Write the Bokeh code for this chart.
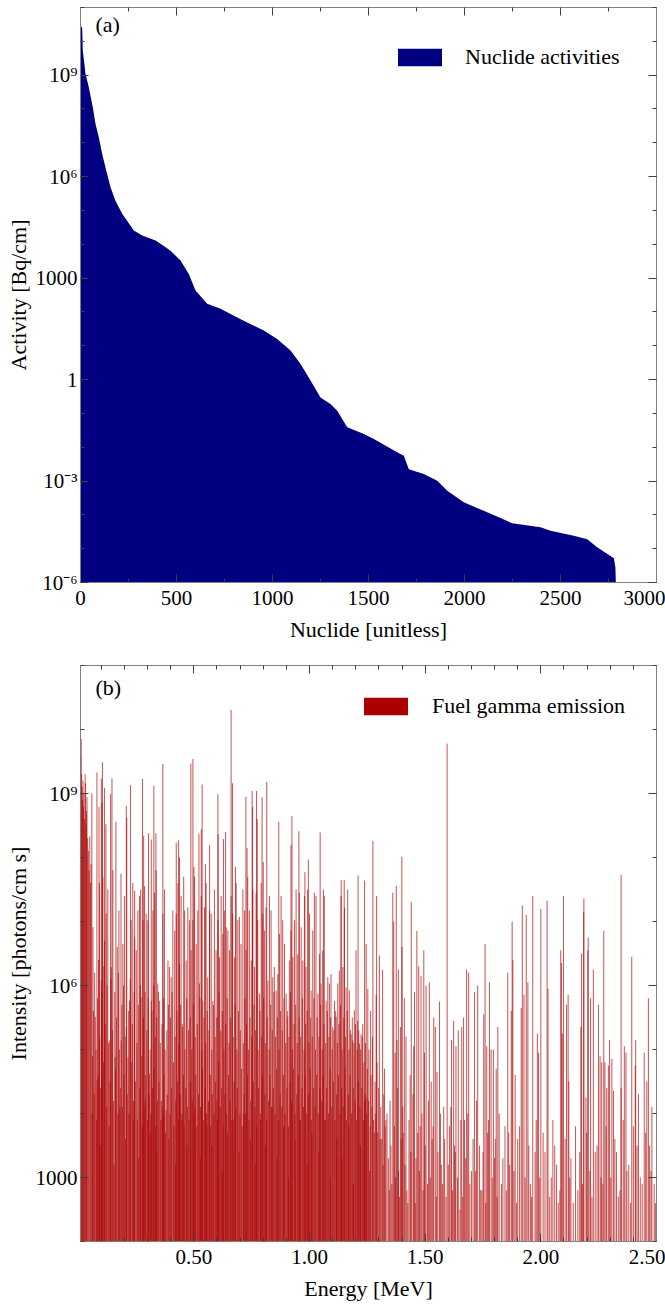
from bokeh.plotting import figure
from bokeh.models import (FixedTicker, LogAxis, LinearAxis, Legend, LegendItem, Label,
                          CustomJSTickFormatter, NumeralTickFormatter, Range1d)
from bokeh.layouts import column
from bokeh.embed import file_html
from bokeh.resources import INLINE

FONT = "Liberation Serif"
FS_TICK = "21px"
FS = "22px"
NAVY = "#000080"
RED = "#AA0000"

# ---------------- (a) nuclide activities, sorted (index, log10 activity [Bq/cm]) ----------
nuclide_index = [0, 9, 12, 26, 43, 64, 78, 95, 113, 134, 156, 182, 217, 278, 321, 391, 443,
                 469, 521, 564, 599, 660, 729, 799, 868, 955, 1024, 1094, 1146, 1198, 1250,
                 1302, 1337, 1389, 1476, 1528, 1649, 1684, 1710, 1788, 1858, 1910, 1996, 2100,
                 2188, 2248, 2396, 2448, 2569, 2639, 2691, 2778, 2786, 2798]
activity_log10 = [10.5, 10.37, 9.73, 9.04, 8.65, 8.05, 7.56, 7.17, 6.67, 6.18, 5.69, 5.29, 4.90,
                  4.41, 4.26, 4.11, 3.91, 3.81, 3.52, 3.12, 2.63, 2.24, 2.09, 1.89, 1.69, 1.45,
                  1.20, 0.86, 0.46, -0.03, -0.53, -0.72, -0.92, -1.41, -1.61, -1.76, -2.15,
                  -2.25, -2.65, -2.79, -2.99, -3.29, -3.63, -3.88, -4.09, -4.25, -4.37, -4.47,
                  -4.62, -4.72, -4.96, -5.28, -5.56, -8.0]

# ---------------- (b) gamma lines: (energy [MeV], log10 intensity [photons/cm s]) ----------
strong_lines = [
    (0.011, 9.6), (0.013, 9.85), (0.015, 9.3), (0.017, 9.1), (0.019, 8.9), (0.021, 9.2),
    (0.023, 8.8), (0.025, 9.0), (0.027, 8.6), (0.030, 9.3), (0.032, 9.16), (0.034, 8.5),
    (0.036, 8.73), (0.038, 8.94), (0.041, 8.3), (0.044, 8.1), (0.047, 7.8), (0.050, 8.33),
    (0.053, 7.6), (0.056, 7.9), (0.059, 9.0),
    (0.081, 9.33), (0.090, 8.79), (0.100, 9.23), (0.103, 8.86), (0.105, 9.49), (0.114, 9.09),
    (0.120, 8.52), (0.140, 8.99), (0.146, 9.24), (0.163, 8.56), (0.185, 7.75), (0.208, 8.81),
    (0.210, 8.62), (0.226, 9.13), (0.244, 7.48), (0.270, 7.5), (0.278, 9.23), (0.283, 8.34),
    (0.304, 8.38), (0.316, 8.28), (0.327, 9.12), (0.336, 8.38), (0.366, 9.46), (0.424, 8.23),
    (0.434, 8.27), (0.438, 8.0), (0.456, 7.7), (0.487, 9.47), (0.496, 9.54), (0.500, 7.85),
    (0.522, 8.37), (0.532, 8.44), (0.536, 9.14), (0.550, 7.9), (0.568, 8.19), (0.604, 8.99),
    (0.605, 8.36), (0.628, 8.29), (0.637, 8.40), (0.661, 10.31), (0.667, 9.16), (0.680, 7.85),
    (0.725, 8.95), (0.730, 8.15), (0.752, 9.04), (0.754, 8.79), (0.771, 9.04), (0.774, 8.6),
    (0.795, 8.94), (0.800, 7.93), (0.815, 9.18), (0.867, 8.56), (0.920, 8.2), (0.924, 8.65),
    (0.954, 8.41), (0.980, 7.77), (0.995, 7.97), (1.046, 8.39), (1.060, 7.5), (1.137, 7.65),
    (1.150, 7.65), (1.210, 7.72), (1.238, 7.64), (1.274, 8.26), (1.290, 7.4), (1.360, 7.45),
    (1.375, 7.56), (1.399, 8.01), (1.440, 7.3), (1.595, 9.78), (1.920, 7.25), (1.965, 7.4),
    (2.000, 7.2), (2.027, 7.33), (2.098, 7.40), (2.186, 7.36), (2.347, 7.73),
]
medium_lines = [
    (0.064, 6.91), (0.074, 5.51), (0.082, 4.52), (0.092, 7.6), (0.100, 6.08), (0.107, 7.7),
    (0.114, 6.70), (0.121, 7.12), (0.128, 7.5), (0.136, 5.14), (0.143, 6.29), (0.150, 7.8),
    (0.160, 4.88), (0.169, 6.60), (0.176, 7.17), (0.186, 5.14), (0.193, 6.65), (0.200, 7.4),
    (0.208, 5.35), (0.215, 4.88), (0.222, 5.76), (0.229, 7.02), (0.236, 7.6), (0.244, 6.76),
    (0.251, 6.55), (0.258, 7.17), (0.265, 7.4), (0.272, 5.82), (0.280, 7.02), (0.287, 7.55),
    (0.294, 7.12), (0.301, 7.02), (0.308, 4.62), (0.316, 5.76), (0.323, 7.17), (0.330, 7.45),
    (0.337, 7.8), (0.344, 6.03), (0.352, 5.76), (0.359, 4.20), (0.366, 7.12), (0.373, 7.5),
    (0.380, 4.05), (0.388, 6.39), (0.395, 6.29), (0.402, 6.13), (0.409, 7.17), (0.417, 6.86),
    (0.424, 7.12), (0.431, 7.6), (0.438, 6.34), (0.445, 7.4), (0.452, 5.35), (0.460, 7.17),
    (0.467, 6.39), (0.474, 7.22), (0.481, 7.02), (0.488, 6.55), (0.496, 7.02), (0.503, 7.7),
    (0.510, 6.65), (0.517, 7.17), (0.524, 6.03), (0.532, 7.4), (0.539, 5.76), (0.546, 7.22),
    (0.553, 7.6), (0.560, 6.13), (0.568, 7.17), (0.575, 7.12), (0.582, 5.76), (0.589, 7.5),
    (0.596, 6.55), (0.604, 7.02), (0.611, 6.44), (0.618, 7.4), (0.625, 6.81), (0.632, 7.17),
    (0.640, 6.91), (0.647, 6.86), (0.654, 6.55), (0.661, 7.4), (0.668, 7.12), (0.676, 6.44),
    (0.683, 7.6), (0.690, 7.02), (0.697, 7.07), (0.704, 6.65), (0.712, 7.5), (0.719, 7.17),
    (0.726, 6.55), (0.733, 7.7), (0.740, 7.17), (0.748, 6.39), (0.755, 7.5), (0.762, 6.29),
    (0.769, 7.45), (0.776, 7.02), (0.784, 5.87), (0.791, 7.6), (0.798, 7.12), (0.805, 6.86),
    (0.812, 7.22), (0.820, 6.08), (0.827, 7.4), (0.834, 7.17), (0.841, 6.13), (0.848, 6.29),
    (0.856, 5.92), (0.863, 6.18), (0.870, 6.81), (0.877, 7.4), (0.884, 7.02), (0.892, 6.65),
    (0.899, 5.87), (0.906, 5.51), (0.913, 6.39), (0.920, 6.86), (0.928, 6.44), (0.935, 7.02),
    (0.942, 7.5), (0.949, 6.49), (0.956, 7.45), (0.964, 6.91), (0.971, 6.39), (0.978, 7.4),
    (0.985, 6.29), (0.992, 7.5), (1.000, 7.12), (1.007, 5.92), (1.014, 6.86), (1.021, 7.45),
    (1.028, 7.4), (1.036, 5.87), (1.043, 6.49), (1.050, 6.03), (1.057, 6.55), (1.064, 7.4),
    (1.072, 5.76), (1.079, 6.13), (1.086, 6.03), (1.093, 6.18), (1.100, 5.35), (1.108, 5.76),
    (1.115, 5.51), (1.122, 6.03), (1.129, 6.23), (1.136, 7.4), (1.144, 6.29), (1.151, 7.22),
    (1.158, 5.97), (1.165, 7.5), (1.172, 5.92), (1.180, 5.24), (1.187, 5.14), (1.194, 5.61),
    (1.201, 6.55), (1.208, 5.45), (1.216, 5.09), (1.223, 5.24), (1.230, 5.40), (1.237, 4.20),
    (1.244, 4.25),
    (1.245, 6.65), (1.252, 5.95), (1.264, 5.6), (1.288, 5.85), (1.302, 6.47), (1.316, 6.25),
    (1.324, 4.7), (1.364, 7.0), (1.370, 4.95), (1.378, 5.15), (1.384, 6.25), (1.393, 5.35),
    (1.400, 6.6), (1.410, 5.8), (1.417, 5.2), (1.435, 4.6), (1.450, 5.05), (1.454, 5.9),
    (1.464, 6.85), (1.472, 6.3), (1.482, 6.15), (1.494, 6.55), (1.497, 4.95), (1.504, 6.0),
    (1.518, 6.05), (1.526, 4.5), (1.537, 5.5), (1.544, 5.35), (1.551, 4.65), (1.562, 5.75),
    (1.580, 4.1), (1.614, 5.15), (1.623, 5.45), (1.633, 5.05), (1.643, 5.3), (1.658, 5.35),
    (1.666, 5.5), (1.679, 6.25), (1.688, 6.2), (1.713, 5.9), (1.727, 6.0), (1.753, 5.55),
    (1.759, 6.65), (1.766, 5.05), (1.778, 6.05), (1.785, 5.0), (1.795, 5.0), (1.807, 4.7),
    (1.814, 5.35), (1.857, 6.2), (1.872, 5.6), (1.876, 7.0), (1.879, 6.4), (1.889, 4.6),
    (1.915, 5.65), (1.927, 5.85), (1.937, 7.1), (1.944, 6.05), (1.985, 5.25), (1.990, 4.95),
    (2.031, 5.95), (2.086, 6.55), (2.089, 6.35), (2.093, 5.25), (2.111, 5.7), (2.118, 5.85),
    (2.121, 4.5), (2.173, 5.35), (2.176, 6.5), (2.185, 7.15), (2.195, 4.25), (2.203, 6.55),
    (2.205, 6.75), (2.215, 5.8), (2.227, 6.25), (2.249, 5.7), (2.256, 4.9), (2.263, 4.8),
    (2.272, 6.85), (2.277, 4.8), (2.285, 4.4), (2.292, 4.75), (2.297, 5.15), (2.307, 4.85),
    (2.314, 4.35), (2.347, 4.4), (2.361, 5.05), (2.368, 4.95), (2.393, 6.45), (2.408, 4.75),
    (2.410, 5.15), (2.422, 4.3), (2.447, 4.95), (2.458, 4.5), (2.465, 5.8), (2.480, 4.1),
]
weak_lines = [
    (0.060, 4.0), (0.095, 3.5), (0.133, 3.8), (0.155, 3.2), (0.180, 4.1), (0.205, 3.6),
    (0.240, 3.9), (0.262, 3.3), (0.290, 4.2), (0.312, 3.7), (0.340, 3.4), (0.370, 4.0),
    (0.392, 3.6), (0.420, 3.2), (0.449, 3.9), (0.470, 3.5), (0.505, 4.1), (0.528, 3.3),
    (0.556, 3.8), (0.578, 3.5), (0.600, 4.2), (0.622, 3.1), (0.645, 3.7), (0.672, 3.9),
    (0.695, 3.4), (0.715, 4.0), (0.744, 3.6), (0.765, 3.2), (0.788, 3.9), (0.810, 3.5),
    (0.838, 4.1), (0.860, 3.3), (0.888, 3.8), (0.910, 3.0), (0.938, 3.6), (0.960, 3.9),
    (0.990, 3.2), (1.010, 3.7), (1.040, 3.4), (1.068, 3.9), (1.090, 3.0), (1.118, 3.6),
    (1.140, 3.3), (1.170, 3.8), (1.190, 2.9), (1.220, 3.5), (1.260, 3.1), (1.280, 3.7),
    (1.305, 3.6), (1.318, 3.2), (1.330, 3.9), (1.345, 2.8), (1.352, 3.5), (1.385, 3.1),
    (1.405, 3.7), (1.425, 2.6), (1.460, 3.3), (1.478, 3.8), (1.510, 2.9), (1.530, 3.6),
    (1.570, 3.2), (1.590, 2.7), (1.605, 3.8), (1.630, 3.4), (1.650, 2.5), (1.670, 3.9),
    (1.700, 3.1), (1.735, 3.5), (1.745, 2.8), (1.770, 3.7), (1.800, 3.3), (1.830, 2.9),
    (1.845, 3.8), (1.865, 3.2), (1.900, 3.6), (1.955, 2.9), (1.975, 3.4), (2.010, 3.7),
    (2.045, 3.0), (2.060, 3.5), (2.075, 2.6), (2.130, 3.3), (2.150, 3.8), (2.160, 2.8),
    (2.235, 3.4), (2.260, 3.0), (2.320, 3.6), (2.335, 2.7), (2.380, 3.2), (2.400, 3.8),
    (2.430, 3.0), (2.470, 3.5), (2.490, 2.9),
]
# dense crowd of lines forming the nearly solid lower band (estimated)
crowd_lines = [
    (0.062, 4.9), (0.066, 5.6), (0.069, 4.3), (0.071, 6.2), (0.077, 5.0), (0.079, 3.9),
    (0.084, 5.8), (0.086, 4.6), (0.088, 6.4), (0.093, 5.2), (0.097, 4.4), (0.102, 5.9),
    (0.109, 4.8), (0.111, 6.3), (0.117, 5.4), (0.123, 4.1), (0.125, 6.0), (0.131, 5.1),
    (0.138, 4.5), (0.141, 6.1), (0.148, 5.3), (0.153, 4.2), (0.158, 5.9), (0.162, 4.7),
    (0.166, 5.5), (0.172, 4.0), (0.174, 6.2), (0.178, 5.0), (0.182, 4.4), (0.189, 5.7),
    (0.191, 4.1), (0.196, 6.0), (0.198, 4.6), (0.203, 5.2), (0.212, 4.3), (0.218, 5.6),
    (0.220, 4.0), (0.225, 6.1), (0.232, 4.8), (0.234, 5.4), (0.239, 4.2), (0.242, 5.9),
    (0.247, 4.5), (0.254, 5.1), (0.256, 3.9), (0.260, 5.7), (0.267, 4.4), (0.269, 6.0),
    (0.275, 4.9), (0.277, 3.8), (0.282, 5.5), (0.285, 4.1), (0.289, 5.9), (0.292, 4.6),
    (0.297, 5.3), (0.299, 3.9), (0.303, 5.8), (0.306, 4.3), (0.311, 5.0), (0.314, 4.0),
    (0.319, 5.6), (0.321, 4.4), (0.326, 6.0), (0.328, 4.7), (0.333, 5.2), (0.335, 3.8),
    (0.339, 5.5), (0.342, 4.2), (0.347, 5.9), (0.349, 4.5), (0.355, 5.1), (0.357, 3.9),
    (0.362, 5.4), (0.364, 4.1), (0.369, 5.8), (0.371, 4.6), (0.376, 5.0), (0.378, 3.7),
    (0.383, 5.3), (0.385, 4.3), (0.390, 5.7), (0.397, 4.0), (0.399, 5.5), (0.404, 4.4),
    (0.406, 5.9), (0.412, 4.8), (0.414, 3.8), (0.419, 5.2), (0.422, 4.2), (0.427, 5.6),
    (0.429, 4.5), (0.433, 3.9), (0.436, 5.1), (0.441, 4.3), (0.443, 5.7), (0.448, 4.0),
    (0.450, 5.4), (0.455, 4.6), (0.458, 3.8), (0.462, 5.0), (0.465, 4.4), (0.469, 5.8),
    (0.472, 4.1), (0.477, 5.3), (0.479, 3.9), (0.484, 5.5), (0.486, 4.5), (0.491, 5.0),
    (0.493, 4.2), (0.498, 5.7), (0.501, 4.0), (0.506, 5.2), (0.508, 4.6), (0.513, 3.8),
    (0.515, 5.4), (0.520, 4.3), (0.526, 5.8), (0.529, 4.1), (0.534, 5.0), (0.537, 4.7),
    (0.541, 3.9), (0.544, 5.5), (0.548, 4.4), (0.551, 5.1), (0.555, 4.0), (0.558, 5.6),
    (0.563, 4.2), (0.565, 5.3), (0.571, 4.6), (0.573, 3.8), (0.577, 5.0), (0.580, 4.3),
    (0.585, 5.7), (0.587, 4.0), (0.592, 5.2), (0.594, 4.5), (0.599, 5.5), (0.601, 3.9),
    (0.607, 4.8), (0.609, 5.9), (0.614, 4.1), (0.616, 5.3), (0.620, 4.4), (0.623, 5.6),
    (0.627, 3.8), (0.630, 5.0), (0.635, 4.3), (0.638, 5.4), (0.642, 4.0), (0.644, 5.8),
    (0.650, 4.6), (0.652, 5.1), (0.657, 4.2), (0.659, 5.5), (0.664, 3.9), (0.670, 5.2),
    (0.674, 4.5), (0.678, 5.7), (0.681, 4.1), (0.686, 5.0), (0.688, 4.4), (0.693, 5.6),
    (0.699, 4.0), (0.701, 5.3), (0.706, 4.7), (0.709, 3.8), (0.714, 5.1), (0.717, 4.3),
    (0.721, 5.8), (0.724, 4.0), (0.728, 5.4), (0.731, 4.6), (0.736, 5.0), (0.738, 3.9),
    (0.743, 5.5), (0.746, 4.2), (0.750, 5.2), (0.757, 4.5), (0.760, 5.7), (0.764, 4.1),
    (0.767, 5.3), (0.772, 3.8), (0.778, 5.0), (0.780, 4.4), (0.786, 5.6), (0.789, 4.0),
    (0.793, 5.2), (0.796, 4.6), (0.802, 5.8), (0.807, 4.3), (0.809, 5.1), (0.814, 3.9),
    (0.817, 5.5), (0.822, 4.2), (0.825, 5.0), (0.829, 4.6), (0.832, 5.7), (0.836, 4.1),
    (0.839, 5.3), (0.844, 4.4), (0.846, 5.9), (0.851, 4.0), (0.853, 5.2), (0.858, 4.7),
    (0.861, 5.5), (0.865, 3.9), (0.868, 5.0), (0.873, 4.3), (0.875, 5.6), (0.880, 4.1),
    (0.882, 5.3), (0.887, 4.6), (0.890, 5.8), (0.894, 4.0), (0.897, 5.1), (0.902, 4.4),
    (0.904, 5.6), (0.909, 3.8), (0.911, 5.2), (0.916, 4.5), (0.918, 5.9), (0.923, 4.2),
    (0.926, 5.0), (0.930, 4.7), (0.933, 5.4), (0.937, 4.0), (0.940, 5.7), (0.945, 4.3),
    (0.947, 5.1), (0.952, 4.6), (0.955, 5.5), (0.959, 3.9), (0.962, 5.2), (0.967, 4.4),
    (0.969, 5.8), (0.974, 4.1), (0.976, 5.0), (0.981, 4.6), (0.983, 5.4), (0.988, 4.0),
    (0.990, 5.6), (0.996, 4.3), (0.998, 5.1), (1.003, 4.7), (1.005, 5.5), (1.009, 3.9),
    (1.012, 5.2), (1.017, 4.4), (1.019, 5.8), (1.024, 4.1), (1.026, 5.0), (1.031, 4.6),
    (1.033, 5.5), (1.038, 4.0), (1.041, 5.2), (1.045, 4.4), (1.048, 5.7), (1.053, 4.2),
    (1.055, 5.0), (1.059, 4.6), (1.062, 5.4), (1.067, 3.9), (1.070, 5.1), (1.074, 4.4),
    (1.077, 5.6), (1.082, 4.0), (1.084, 5.2), (1.089, 4.7), (1.091, 5.5), (1.096, 4.1),
    (1.098, 5.0), (1.103, 4.5), (1.105, 5.3), (1.110, 3.9), (1.113, 5.6), (1.117, 4.3),
    (1.120, 5.1), (1.125, 4.6), (1.127, 5.4), (1.132, 4.0), (1.134, 5.7), (1.139, 4.4),
    (1.141, 5.0), (1.146, 4.1), (1.148, 5.5), (1.153, 4.7), (1.156, 5.2), (1.160, 3.9),
    (1.163, 5.6), (1.168, 4.3), (1.170, 5.0), (1.175, 4.6), (1.177, 5.3), (1.182, 4.0),
    (1.185, 5.5), (1.189, 4.4), (1.192, 5.1), (1.197, 4.2), (1.199, 5.4), (1.204, 3.9),
    (1.206, 5.0), (1.211, 4.5), (1.213, 5.3), (1.218, 4.1), (1.221, 5.0), (1.226, 4.4),
    (1.228, 5.2), (1.233, 3.9), (1.235, 4.8), (1.240, 4.3), (1.242, 5.1), (1.247, 4.0),
    (1.250, 4.7), (1.255, 4.2), (1.257, 5.0), (1.262, 3.8), (1.266, 4.6), (1.270, 4.1),
    (1.272, 5.2), (1.277, 3.9), (1.283, 4.5), (1.286, 4.0), (1.292, 4.8), (1.295, 3.7),
    (1.299, 4.4), (1.308, 4.1), (1.312, 3.6), (1.321, 4.3), (1.327, 3.8), (1.335, 4.0),
    (1.341, 3.3), (1.348, 4.2), (1.356, 2.9), (1.367, 3.8), (1.372, 3.0), (1.381, 4.4),
    (1.389, 2.7), (1.396, 3.6), (1.403, 4.1), (1.413, 3.2), (1.421, 2.8), (1.430, 3.9),
    (1.438, 3.4), (1.447, 4.3), (1.457, 2.6), (1.468, 3.7), (1.475, 3.1), (1.486, 4.0),
    (1.491, 2.8), (1.500, 3.5), (1.514, 4.2), (1.522, 3.0), (1.534, 3.8), (1.548, 2.7),
    (1.555, 3.4), (1.566, 4.0), (1.575, 2.9), (1.584, 3.6), (1.600, 3.2), (1.611, 4.1),
    (1.618, 2.8), (1.627, 3.5), (1.640, 3.0), (1.654, 3.9), (1.662, 2.7), (1.675, 3.3),
    (1.684, 4.0), (1.693, 2.9), (1.707, 3.6), (1.718, 3.1), (1.722, 4.2), (1.740, 2.8),
    (1.750, 3.4), (1.762, 2.6), (1.774, 3.9), (1.790, 3.0), (1.803, 3.6), (1.811, 2.7),
    (1.820, 4.0), (1.836, 3.3), (1.851, 2.8), (1.861, 3.7), (1.884, 3.1), (1.895, 2.6),
    (1.908, 3.8), (1.932, 3.0), (1.948, 3.5), (1.960, 2.7), (1.980, 3.9), (1.995, 3.0),
    (2.018, 3.4), (2.038, 2.7), (2.052, 3.9), (2.068, 3.2), (2.082, 2.8), (2.105, 3.6),
    (2.125, 3.0), (2.140, 2.6), (2.168, 3.4), (2.180, 2.9), (2.198, 3.7), (2.212, 3.1),
    (2.221, 2.7), (2.243, 3.5), (2.268, 2.9), (2.282, 3.8), (2.302, 3.0), (2.327, 3.4),
    (2.342, 2.8), (2.356, 3.9), (2.372, 3.1), (2.388, 2.6), (2.416, 3.5), (2.438, 2.9),
    (2.453, 3.7), (2.476, 3.1), (2.495, 2.6),
]

# ---------------- ticks ----------------
x_ticks_a = [0, 500, 1000, 1500, 2000, 2500, 3000]
x_minor_a = [250, 750, 1250, 1750, 2250, 2750]
y_ticks_a = [1e-6, 1e-3, 1.0, 1e3, 1e6, 1e9]
y_minor_a = [10.0 ** k for k in range(-6, 12)]
x_ticks_b = [0.5, 1.0, 1.5, 2.0, 2.5]
x_minor_b = [round(0.1 * k, 1) for k in range(1, 26)]
y_ticks_b = [1e3, 1e6, 1e9]
y_minor_b = [10.0 ** k for k in range(2, 12)]

LOG_FMT_CODE = """
const e = Math.round(Math.log10(tick));
if (e == 0) return "1";
if (e == 3) return "1000";
const sup = {"-":"\u207b","0":"\u2070","1":"\u00b9","2":"\u00b2","3":"\u00b3","4":"\u2074",
             "5":"\u2075","6":"\u2076","7":"\u2077","8":"\u2078","9":"\u2079"};
return "10" + String(e).split("").map(c => sup[c]).join("");
"""


def style_axis(ax, labels=True):
    ax.axis_line_color = "#808080"
    ax.axis_line_width = 1
    ax.major_tick_line_color = "#404040"
    ax.minor_tick_line_color = "#404040"
    ax.major_tick_in = 8
    ax.major_tick_out = 0
    ax.minor_tick_in = 4
    ax.minor_tick_out = 0
    ax.major_label_text_font = FONT
    ax.major_label_text_font_size = FS_TICK
    ax.major_label_text_color = "black"
    ax.axis_label_text_font = FONT
    ax.axis_label_text_font_size = FS
    ax.axis_label_text_font_style = "normal"
    ax.axis_label_text_color = "black"
    if not labels:
        ax.formatter = CustomJSTickFormatter(code='return "";')
        ax.major_label_standoff = 0


def make_fig(height, top, bottom, x_range, y_range):
    p = figure(width=665, height=height, x_range=x_range, y_range=y_range,
               y_axis_type="log", output_backend="svg", toolbar_location=None,
               min_border_left=80, min_border_right=9, min_border_top=top,
               min_border_bottom=bottom)
    p.xgrid.visible = False
    p.ygrid.visible = False
    p.outline_line_color = None
    p.background_fill_color = "white"
    p.border_fill_color = "white"
    return p


def add_axes(p, xt, xm, yt, ym, xfmt=None):
    bx = p.below[0]
    bx.ticker = FixedTicker(ticks=xt, minor_ticks=xm)
    if xfmt is not None:
        bx.formatter = xfmt
    style_axis(bx)
    bx.major_label_standoff = 8
    bx.axis_label_standoff = 9
    ly = p.left[0]
    ly.ticker = FixedTicker(ticks=yt, minor_ticks=ym)
    ly.formatter = CustomJSTickFormatter(code=LOG_FMT_CODE)
    style_axis(ly)
    ly.major_label_standoff = 3
    ly.axis_label_standoff = 2
    top_ax = LinearAxis(ticker=FixedTicker(ticks=xt, minor_ticks=xm))
    style_axis(top_ax, labels=False)
    p.add_layout(top_ax, "above")
    right_ax = LogAxis(ticker=FixedTicker(ticks=yt, minor_ticks=ym))
    style_axis(right_ax, labels=False)
    p.add_layout(right_ax, "right")
    return bx, ly


def make_legend(label, renderer, loc, standoff):
    return Legend(items=[LegendItem(label=label, renderers=[renderer])],
                  location=loc, glyph_width=55, glyph_height=22, label_standoff=standoff,
                  label_text_font=FONT, label_text_font_size=FS, label_text_color="black",
                  padding=0, margin=0, spacing=0, border_line_color=None,
                  background_fill_alpha=0)


# ---------------- panel (a) ----------------
p1 = make_fig(652, 7, 70, Range1d(0, 3000), Range1d(1e-6, 1e11))
bx1, ly1 = add_axes(p1, x_ticks_a, x_minor_a, y_ticks_a, y_minor_a)
bx1.axis_label = "Nuclide [unitless]"
ly1.axis_label = "Activity [Bq/cm]"

activity = [10.0 ** v for v in activity_log10]
area = p1.varea(x=nuclide_index, y1=1e-8, y2=activity, fill_color=NAVY, fill_alpha=1.0)
p1.add_layout(make_legend("Nuclide activities", area, (312, 512), 18))
p1.add_layout(Label(x=15, y=546, x_units="screen", y_units="screen", text="(a)",
                    text_font=FONT, text_font_size=FS, text_color="black"))

# ---------------- panel (b) ----------------
p2 = make_fig(653, 13, 64, Range1d(0.01, 2.5), Range1d(1e2, 1e11))
bx2, ly2 = add_axes(p2, x_ticks_b, x_minor_b, y_ticks_b, y_minor_b,
                    xfmt=NumeralTickFormatter(format="0.00"))
bx2.axis_label = "Energy [MeV]"
ly2.axis_label = "Intensity [photons/cm s]"

all_lines = strong_lines + medium_lines + weak_lines + crowd_lines
energies = [e for e, _ in all_lines]
intens = [10.0 ** v for _, v in all_lines]
p2.vbar(x=energies, width=0.0045, bottom=1.0, top=intens, fill_color=RED, fill_alpha=0.65,
        line_color=None)
proxy = p2.quad(left=[0], right=[0], top=[1], bottom=[1], fill_color=RED, line_color=None)
p2.add_layout(make_legend("Fuel gamma emission", proxy, (278, 522), 19))
p2.add_layout(Label(x=15, y=542, x_units="screen", y_units="screen", text="(b)",
                    text_font=FONT, text_font_size=FS, text_color="black"))

layout = column(p1, p2, spacing=0)
open("out.html", "w").write(file_html(layout, INLINE))
